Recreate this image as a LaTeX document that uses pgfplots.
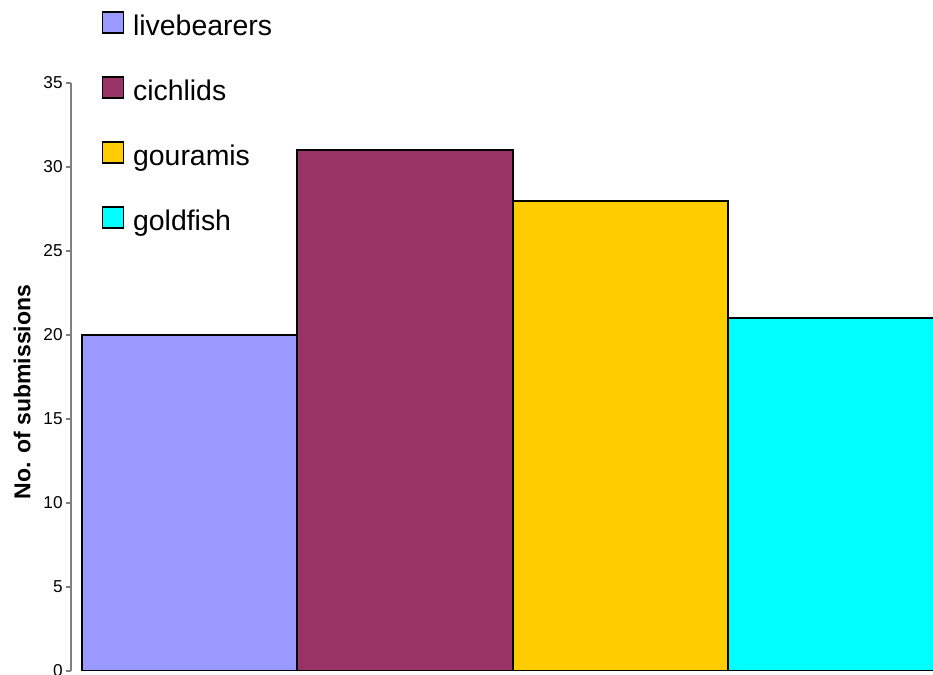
\documentclass[border=0pt]{standalone}
\usepackage{pgfplots}
\pgfplotsset{compat=1.18}
\usepackage{fontspec}
\setmainfont{Liberation Sans}
\definecolor{cLive}{HTML}{9999FF}
\definecolor{cCich}{HTML}{993366}
\definecolor{cGour}{HTML}{FFCC00}
\definecolor{cGold}{HTML}{00FFFF}
\begin{document}
\begin{tikzpicture}
\begin{axis}[
  scale only axis, width=431pt, height=294pt,
  xmin=-0.551, xmax=3.452, ymin=0, ymax=35,
  axis y line=left, axis x line=none,
  y axis line style={-, draw=gray, line width=0.6pt},
  ytick={0,5,...,35},
  tick align=outside, major tick length=2.5pt,
  ytick style={draw=gray, line width=0.6pt},
  /pgf/number format/assume math mode=true,
  yticklabel style={font=\fontsize{8.6}{10}\selectfont, inner sep=1.5pt},
  ylabel={\textbf{No. of submissions}},
  every axis y label/.style={at={(axis description cs:-0.0568,0.4745)}, rotate=90, anchor=center, font=\fontsize{11.5}{13}\selectfont},
  legend style={at={(axis description cs:0.028,1.1294)}, anchor=north west, draw=none, fill=none,
    font=\fontsize{14.2}{17}\selectfont, row sep=17.35pt,
    nodes={inner sep=0pt, text height=11pt, text depth=3pt}},
  legend cell align=left,
  legend image code/.code={\draw[#1, draw=black, line width=0.8pt] (0pt,-2.75pt) rectangle (10.5pt,7.75pt);},
]
\addplot[ybar, bar width=1, bar shift=0pt, fill=cLive, draw=black, line width=1pt] coordinates {(0,20)};
\addlegendentry{\hspace{4.5pt}livebearers}
\addplot[ybar, bar width=1, bar shift=0pt, fill=cCich, draw=black, line width=1pt] coordinates {(1,31)};
\addlegendentry{\hspace{4.5pt}cichlids}
\addplot[ybar, bar width=1, bar shift=0pt, fill=cGour, draw=black, line width=1pt] coordinates {(2,28)};
\addlegendentry{\hspace{4.5pt}gouramis}
\addplot[ybar, bar width=1, bar shift=0pt, fill=cGold, draw=black, line width=1pt] coordinates {(3,21)};
\addlegendentry{\hspace{4.5pt}goldfish}
\coordinate (O) at (rel axis cs:0,0);
\end{axis}
\pgfresetboundingbox
\path[use as bounding box] ([xshift=-35.5pt, yshift=-2pt]O) rectangle ++(466.5pt,337.5pt);
\end{tikzpicture}
\end{document}
